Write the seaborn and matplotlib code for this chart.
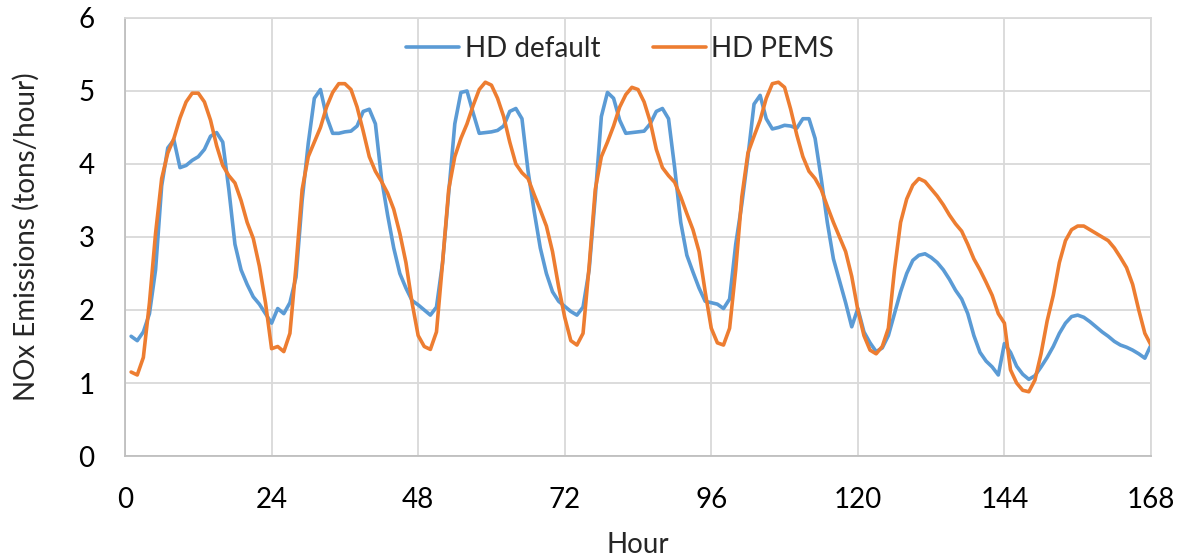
import matplotlib
matplotlib.use('Agg')
import matplotlib.pyplot as plt
import seaborn as sns
import pandas as pd

# hourly NOx emissions over one week (tons/hour)
hours = list(range(1, 169))

hd_default = [
    1.64, 1.58, 1.70, 1.95, 2.55, 3.70, 4.22, 4.33, 3.95, 3.98, 4.05, 4.10,
    4.20, 4.38, 4.43, 4.30, 3.65, 2.90, 2.55, 2.35, 2.18, 2.08, 1.95, 1.82,
    2.02, 1.95, 2.10, 2.45, 3.50, 4.28, 4.90, 5.02, 4.65, 4.42, 4.42, 4.44,
    4.45, 4.52, 4.72, 4.75, 4.55, 3.80, 3.30, 2.85, 2.50, 2.30, 2.13, 2.07,
    2.00, 1.93, 2.04, 2.65, 3.60, 4.55, 4.98, 5.00, 4.70, 4.42, 4.43, 4.44,
    4.46, 4.52, 4.72, 4.76, 4.62, 3.90, 3.35, 2.85, 2.50, 2.25, 2.12, 2.05,
    1.98, 1.93, 2.04, 2.55, 3.55, 4.65, 4.98, 4.90, 4.60, 4.42, 4.43, 4.44,
    4.45, 4.55, 4.72, 4.76, 4.62, 3.95, 3.20, 2.75, 2.52, 2.30, 2.12, 2.10,
    2.08, 2.02, 2.15, 2.90, 3.45, 4.10, 4.82, 4.94, 4.62, 4.48, 4.50, 4.53,
    4.52, 4.49, 4.62, 4.62, 4.35, 3.80, 3.20, 2.70, 2.40, 2.10, 1.77, 2.02,
    1.70, 1.55, 1.43, 1.48, 1.65, 1.95, 2.25, 2.50, 2.68, 2.75, 2.77, 2.72,
    2.65, 2.55, 2.42, 2.27, 2.15, 1.95, 1.65, 1.42, 1.30, 1.22, 1.11, 1.54,
    1.42, 1.23, 1.12, 1.05, 1.10, 1.22, 1.35, 1.50, 1.68, 1.82, 1.91, 1.93,
    1.90, 1.84, 1.77, 1.70, 1.64, 1.57, 1.52, 1.49, 1.45, 1.40, 1.34, 1.52,
]

hd_pems = [
    1.15, 1.11, 1.35, 2.10, 3.05, 3.80, 4.15, 4.35, 4.63, 4.85, 4.97, 4.97,
    4.85, 4.60, 4.25, 3.98, 3.84, 3.74, 3.50, 3.20, 2.98, 2.60, 2.10, 1.47,
    1.50, 1.43, 1.68, 2.60, 3.65, 4.10, 4.30, 4.50, 4.78, 4.98, 5.10, 5.10,
    5.02, 4.78, 4.45, 4.10, 3.90, 3.76, 3.60, 3.38, 3.05, 2.65, 2.10, 1.65,
    1.50, 1.46, 1.70, 2.65, 3.65, 4.10, 4.35, 4.55, 4.80, 5.02, 5.12, 5.08,
    4.90, 4.65, 4.30, 4.00, 3.88, 3.80, 3.58, 3.37, 3.15, 2.80, 2.32, 1.90,
    1.58, 1.52, 1.68, 2.60, 3.65, 4.10, 4.30, 4.52, 4.78, 4.95, 5.05, 5.02,
    4.85, 4.58, 4.20, 3.95, 3.84, 3.75, 3.55, 3.32, 3.10, 2.80, 2.25, 1.75,
    1.55, 1.52, 1.75, 2.55, 3.55, 4.15, 4.38, 4.60, 4.90, 5.10, 5.12, 5.05,
    4.75, 4.40, 4.10, 3.90, 3.80, 3.65, 3.42, 3.20, 3.00, 2.80, 2.46, 2.00,
    1.65, 1.45, 1.40, 1.50, 1.75, 2.55, 3.20, 3.52, 3.71, 3.80, 3.76, 3.66,
    3.56, 3.44, 3.30, 3.18, 3.08, 2.90, 2.70, 2.55, 2.38, 2.20, 1.95, 1.82,
    1.18, 1.00, 0.90, 0.88, 1.04, 1.40, 1.85, 2.20, 2.65, 2.95, 3.10, 3.15,
    3.15, 3.10, 3.05, 3.00, 2.95, 2.85, 2.72, 2.58, 2.35, 2.00, 1.68, 1.52,
]

series_names = ['HD default', 'HD PEMS']
x_ticks = [0, 24, 48, 72, 96, 120, 144, 168]
y_ticks = [0, 1, 2, 3, 4, 5, 6]

df = pd.DataFrame({
    'Hour': hours * 2,
    'NOx': hd_default + hd_pems,
    'Series': [series_names[0]] * len(hours) + [series_names[1]] * len(hours),
})

sns.set_style('white')
plt.rcParams['font.family'] = ['Lato', 'DejaVu Sans']

fig = plt.figure(figsize=(11.84, 5.6), dpi=100)
ax = fig.add_axes([0.1056, 0.1857, 0.8665, 0.7822])

sns.lineplot(data=df, x='Hour', y='NOx', hue='Series',
             palette={'HD default': '#5B9BD5', 'HD PEMS': '#ED7D31'},
             linewidth=2.6, ax=ax)
for ln in ax.get_lines():
    ln.set_solid_joinstyle('round')
    ln.set_solid_capstyle('round')

ax.set_xlim(0, 168)
ax.set_ylim(0, 6)
ax.set_xticks(x_ticks)
ax.set_yticks(y_ticks)
ax.grid(True, color='#d9d9d9', linewidth=1.3)
ax.set_axisbelow(True)
for s in ax.spines.values():
    s.set_color('#d9d9d9')
    s.set_linewidth(1.3)
ax.spines['left'].set_color('#bfbfbf')
ax.spines['bottom'].set_color('#bfbfbf')

ax.tick_params(axis='both', length=0, labelsize=20, colors='black')
ax.tick_params(axis='x', pad=22)
ax.tick_params(axis='y', pad=22)
ax.set_xlabel('Hour', fontsize=20, labelpad=14)
ax.set_ylabel('NOx Emissions (tons/hour)', fontsize=20, labelpad=28)

ax.legend(loc='center', bbox_to_anchor=(0.4825, 0.93), ncol=2, frameon=False,
          fontsize=20, handlelength=1.9, handletextpad=0.2, columnspacing=1.9)

fig.savefig('out.png', dpi=100)
